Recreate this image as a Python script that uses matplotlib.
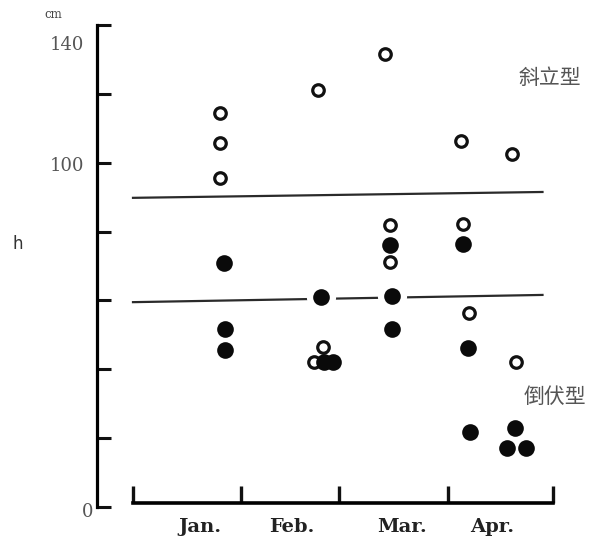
import matplotlib
matplotlib.use("Agg")
import matplotlib.pyplot as plt

# === DATA ===
# x: day of year (Jan 1 = 0), y: plant height h in cm
# open circles: upright type (斜立型), filled circles: lodging type (倒伏型)
open_day = [25, 25, 25, 52.9, 54.3, 51.7, 72, 73.4, 73.4, 93.7, 108.3, 94.3, 96, 109.4]
open_h = [114.4, 105.7, 95.6, 121.1, 46.5, 42.1, 131.6, 81.9, 71.2, 106.3, 102.5, 82.2, 56.3, 42.1]

filled_day = [26, 26.3, 26.3, 53.7, 54.6, 57.1, 73.4, 74, 74, 94.3, 95.7, 96.3, 109.1, 106.9, 112.3]
filled_h = [70.9, 51.7, 45.6, 61.0, 42.1, 42.1, 76.1, 61.3, 51.7, 76.4, 46.2, 21.8, 22.9, 17.1, 17.1]

# two dividing lines (start/end day, start/end height)
upper_line_day = [0, 117]
upper_line_h = [89.8, 91.5]
lower_line_day = [0, 117]
lower_line_h = [59.5, 61.6]

month_edges = [0, 31, 59, 90, 120]
month_label_pos = [19, 45.4, 76.9, 102.6]
month_labels = ["Jan.", "Feb.", "Mar.", "Apr."]
y_ticks = [0, 20, 40, 60, 80, 100, 120, 140]

# === FIGURE ===
fig = plt.figure(figsize=(6, 5.4), dpi=100)
ax = fig.add_axes([0, 0, 1, 1])
ax.set_xlim(-38, 133.43)
ax.set_ylim(-9.58, 147.26)
ax.patch.set_alpha(0)

ax.plot(upper_line_day, upper_line_h, color="#2a2a2a", lw=1.6, zorder=1)
ax.plot(lower_line_day, lower_line_h, color="#2a2a2a", lw=1.6, zorder=1)

# white halo so the lines break around the filled points
ax.plot(filled_day, filled_h, "o", ms=21, color="white", mew=0, zorder=2)

ax.plot(open_day, open_h, "o", ms=8.3, mfc="white", mec="#111111", mew=2.3, zorder=3)
ax.plot(filled_day, filled_h, "o", ms=12, color="#0a0a0a", mew=0, zorder=4)

# axes
for side in ("top", "right"):
    ax.spines[side].set_visible(False)
ax.spines["left"].set_position(("data", -10.3))
ax.spines["left"].set_bounds(0, 140)
ax.spines["left"].set_linewidth(2.3)
ax.spines["bottom"].set_position(("data", 1.2))
ax.spines["bottom"].set_bounds(0, 120)
ax.spines["bottom"].set_linewidth(2.6)

ax.set_yticks(y_ticks)
ax.set_yticklabels([])
ax.tick_params(axis="y", direction="in", length=10, width=2.2, color="#111111")

ax.set_xticks(month_edges)
ax.set_xticklabels([])
ax.set_xticks(month_label_pos, minor=True)
ax.set_xticklabels(month_labels, minor=True, fontfamily="DejaVu Serif",
                   fontsize=14, color="#222222", fontweight="bold")
ax.tick_params(axis="x", which="major", direction="in", length=12, width=2.4,
               color="#111111")
ax.tick_params(axis="x", which="minor", length=0, pad=11)

# y labels and unit
serif = dict(fontfamily="DejaVu Serif", color="#555555", ha="right", va="center")
fig.text(84 / 600, 1 - 45 / 540, "140", fontsize=13, **serif)
fig.text(84 / 600, 1 - 166 / 540, "100", fontsize=13, **serif)
fig.text(93 / 600, 1 - 512 / 540, "0", fontsize=13, **serif)
fig.text(53 / 600, 1 - 15 / 540, "cm", fontsize=8.5, fontfamily="DejaVu Serif",
         color="#444444", ha="center", va="center")
fig.text(18 / 600, 1 - 244 / 540, "h", fontsize=12, color="#333333",
         ha="center", va="center")

cjk = dict(fontfamily=["Noto Sans CJK SC", "DejaVu Sans"], fontsize=15,
           color="#555555", ha="center", va="center")
fig.text(550 / 600, 1 - 78 / 540, "斜立型", **cjk)
fig.text(555 / 600, 1 - 397 / 540, "倒伏型", **cjk)

fig.savefig("out.png", dpi=100)
